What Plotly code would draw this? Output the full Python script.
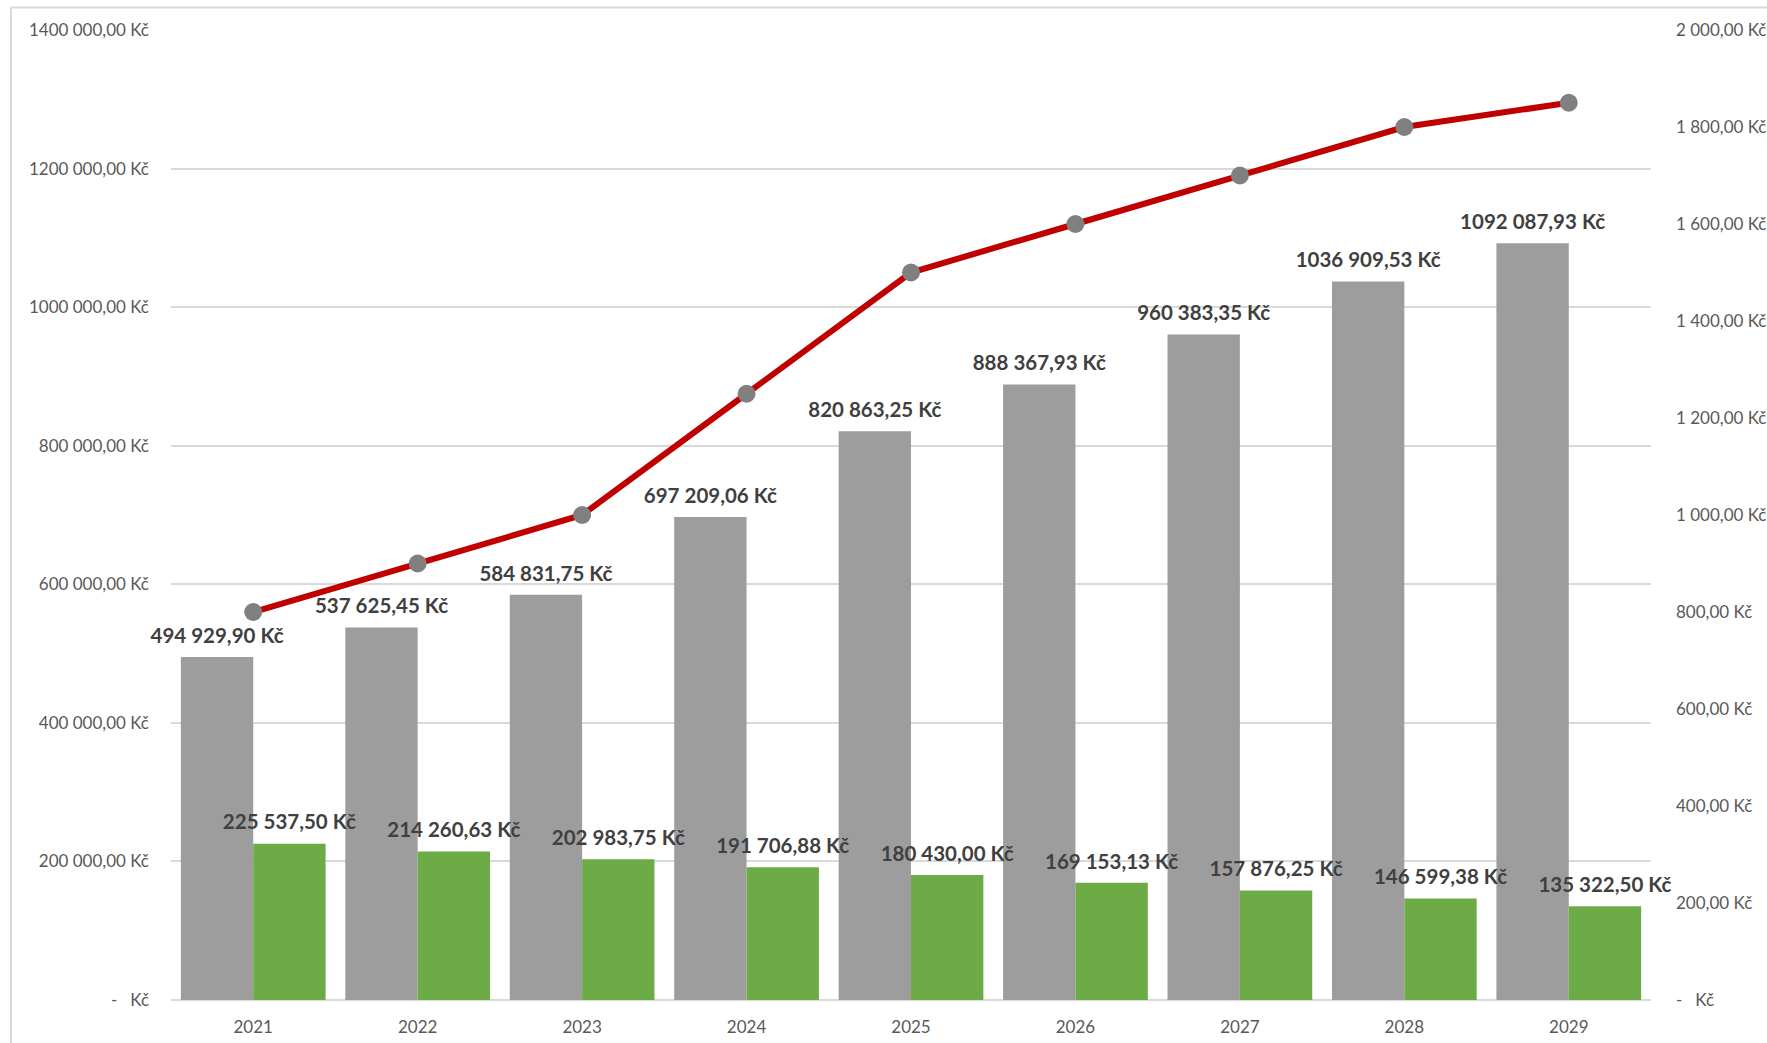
import plotly.graph_objects as go

years = ["2021", "2022", "2023", "2024", "2025", "2026", "2027", "2028", "2029"]
grey_values = [494929.90, 537625.45, 584831.75, 697209.06, 820863.25, 888367.93, 960383.35, 1036909.53, 1092087.93]
green_values = [225537.50, 214260.63, 202983.75, 191706.88, 180430.00, 169153.13, 157876.25, 146599.38, 135322.50]
line_values = [800, 900, 1000, 1250, 1500, 1600, 1700, 1800, 1850]

left_ticks = [0, 200000, 400000, 600000, 800000, 1000000, 1200000, 1400000]
right_ticks = [0, 200, 400, 600, 800, 1000, 1200, 1400, 1600, 1800, 2000]


def fmt(v):
    s = f"{v:.2f}"
    ip, dp = s.split(".")
    n = int(ip)
    if n == 0:
        return "-   Kč"
    if n >= 1000:
        ip = f"{n // 1000} {n % 1000:03d}"
    return f"{ip},{dp} Kč"


FONT = "Lato, Open Sans, sans-serif"
LABEL_FONT = dict(family=FONT, size=20.5, color="#404040", weight="bold")

fig = go.Figure()
fig.add_trace(go.Bar(
    x=years, y=grey_values, name="grey", offsetgroup="a", alignmentgroup="g",
    marker=dict(color="#9d9d9d", line=dict(width=0)),
))
fig.add_trace(go.Bar(
    x=years, y=green_values, name="green", offsetgroup="b", alignmentgroup="g",
    marker=dict(color="#6cab46", line=dict(width=0)),
))
# value labels above the bars
fig.add_trace(go.Scatter(
    x=years, y=grey_values, offsetgroup="a", alignmentgroup="g", mode="markers+text",
    marker=dict(size=13, color="rgba(0,0,0,0)"),
    text=[fmt(v) for v in grey_values], textposition="top center",
    textfont=LABEL_FONT, cliponaxis=False, hoverinfo="skip",
))
fig.add_trace(go.Scatter(
    x=years, y=green_values, offsetgroup="b", alignmentgroup="g", mode="markers+text",
    marker=dict(size=13, color="rgba(0,0,0,0)"),
    text=[fmt(v) for v in green_values], textposition="top center",
    textfont=LABEL_FONT, cliponaxis=False, hoverinfo="skip",
))
fig.add_trace(go.Scatter(
    x=years, y=line_values, yaxis="y2", mode="lines+markers",
    line=dict(color="#c00000", width=6),
    marker=dict(color="#808080", size=18),
    cliponaxis=False,
))

fig.update_layout(
    width=1767, height=1043,
    margin=dict(l=171, r=116, t=30, b=43, autoexpand=False),
    paper_bgcolor="white", plot_bgcolor="white",
    showlegend=False,
    barmode="group", bargap=0.12, bargroupgap=0,
    scattermode="group", scattergap=0.12,
    font=dict(family=FONT, color="#595959", size=17),
    xaxis=dict(
        type="category", showgrid=False, showline=False, ticks="", automargin=False,
        tickfont=dict(size=17, color="#595959"), ticklabelstandoff=15,
    ),
    yaxis=dict(
        range=[0, 1400000], tickvals=left_ticks, ticktext=[fmt(v) for v in left_ticks],
        showgrid=True, gridcolor="#d9d9d9", gridwidth=1.5,
        zeroline=True, zerolinecolor="#d9d9d9", zerolinewidth=1.5,
        showline=False, ticks="", ticklabelstandoff=21, automargin=False,
        tickfont=dict(size=17, color="#595959"),
    ),
    yaxis2=dict(
        range=[0, 2000], overlaying="y", side="right",
        tickvals=right_ticks, ticktext=[fmt(v) for v in right_ticks],
        showgrid=False, zeroline=False, showline=False, ticks="", automargin=False,
        ticklabelstandoff=24, tickfont=dict(size=17, color="#595959"),
    ),
    shapes=[dict(
        type="rect", xref="paper", yref="paper",
        x0=(11 - 171) / 1480, x1=1.2, y0=-0.2, y1=1 + (30 - 7.5) / 970,
        line=dict(color="#d9d9d9", width=2), fillcolor="rgba(0,0,0,0)", layer="below",
    )],
)

fig.write_html(
    "out.html",
    config={"displayModeBar": False},
    post_script="document.body.style.margin='0';document.body.style.overflow='hidden';",
)
